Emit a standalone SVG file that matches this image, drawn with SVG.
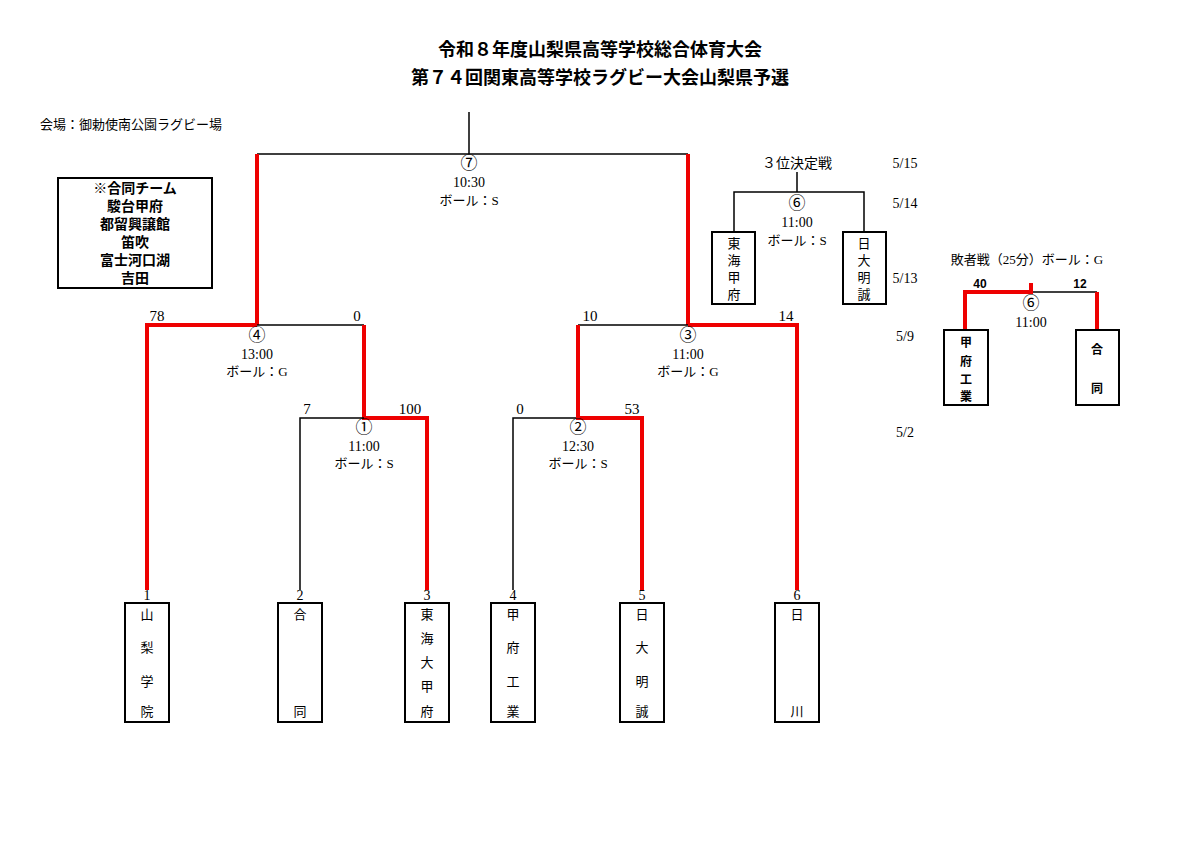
<svg xmlns="http://www.w3.org/2000/svg" width="1200" height="848" viewBox="0 0 1200 848">
<style>
text{font-family:"Liberation Serif","Noto Sans CJK JP",serif;fill:#000;text-anchor:middle}
.s{font-family:"Liberation Sans","Noto Sans CJK JP",sans-serif}
.b{font-weight:bold}
.k{stroke:#000;stroke-width:1.5;fill:none}
.r{stroke:#e00;stroke-width:4;fill:none}
.box{fill:#fff;stroke:#000;stroke-width:2}
.t{font-size:15px}
.m{font-size:14px}
.c{font-size:13px}
</style>
<rect width="1200" height="848" fill="#fff"/>
<text class="s b" x="600" y="56" font-size="18">令和８年度山梨県高等学校総合体育大会</text>
<text class="s b" x="600" y="84" font-size="18">第７４回関東高等学校ラグビー大会山梨県予選</text>
<text class="s" x="40" y="129" font-size="13" style="text-anchor:start">会場：御勅使南公園ラグビー場</text>
<g id="note">
<rect class="box" x="58" y="178" width="154" height="110"/>
<g class="s b" font-size="14">
<text x="135" y="193">※合同チーム</text><text x="135" y="211">駿台甲府</text><text x="135" y="229">都留興譲館</text>
<text x="135" y="247">笛吹</text><text x="135" y="265">富士河口湖</text><text x="135" y="283">吉田</text></g>
</g>
<g id="connectors">
<path class="k" d="M469 112V154H257M469 154H688"/>
<path class="r" d="M257 154V325M688 154V325"/>
<path class="k" d="M257 325H364"/>
<path class="r" d="M257 325H147V590M364 325V418H427V590"/>
<path class="k" d="M364 418H300V590"/>
<path class="k" d="M578 325H688M578 418H513V590"/>
<path class="r" d="M688 325H797V590M578 325V418H642V590"/>
<path class="k" d="M797 172V192M734 232V192H864V232"/>
<path class="k" d="M1031 292H1097"/>
<path class="r" d="M1031 283V292H965V330M1097 292V330"/>
</g>
<g class="t">
<text x="157" y="321">78</text><text x="357" y="321">0</text>
<text x="307" y="414">7</text><text x="410" y="414">100</text>
<text x="520" y="414">0</text><text x="632" y="414">53</text>
<text x="590" y="321">10</text><text x="786" y="321">14</text>
</g>
<g id="m7" class="m"><text x="469" y="169" font-size="17">⑦</text><text x="469" y="187">10:30</text><text x="469" y="205" class="c">ボール：S</text></g>
<g id="m4" class="m"><text x="257" y="341" font-size="17">④</text><text x="257" y="359">13:00</text><text x="257" y="376" class="c">ボール：G</text></g>
<g id="m3" class="m"><text x="688" y="341" font-size="17">③</text><text x="688" y="359">11:00</text><text x="688" y="376" class="c">ボール：G</text></g>
<g id="m1" class="m"><text x="364" y="433" font-size="17">①</text><text x="364" y="451">11:00</text><text x="364" y="468" class="c">ボール：S</text></g>
<g id="m2" class="m"><text x="578" y="433" font-size="17">②</text><text x="578" y="451">12:30</text><text x="578" y="468" class="c">ボール：S</text></g>
<g id="m6" class="m"><text x="797" y="168">３位決定戦</text><text x="797" y="209" font-size="17">⑥</text><text x="797" y="227">11:00</text><text x="797" y="245" class="c">ボール：S</text></g>
<g id="dates" class="m"><text x="905" y="168">5/15</text><text x="905" y="208">5/14</text><text x="905" y="283">5/13</text><text x="905" y="341">5/9</text><text x="905" y="437">5/2</text></g>
<g class="m">
<text x="147" y="600">1</text><text x="300" y="600">2</text><text x="427" y="600">3</text><text x="513" y="600">4</text><text x="642" y="600">5</text><text x="797" y="600">6</text></g>
<g id="t1"><rect class="box" x="125" y="603" width="44" height="119"/><g class="c"><text x="147" y="619">山</text><text x="147" y="652">梨</text><text x="147" y="686">学</text><text x="147" y="716">院</text></g></g>
<g id="t2"><rect class="box" x="278" y="603" width="44" height="119"/><g class="c"><text x="300" y="619">合</text><text x="300" y="716">同</text></g></g>
<g id="t3"><rect class="box" x="405" y="603" width="44" height="119"/><g class="c"><text x="427" y="619">東</text><text x="427" y="643">海</text><text x="427" y="667">大</text><text x="427" y="691">甲</text><text x="427" y="716">府</text></g></g>
<g id="t4"><rect class="box" x="491" y="603" width="44" height="119"/><g class="c"><text x="513" y="619">甲</text><text x="513" y="652">府</text><text x="513" y="686">工</text><text x="513" y="716">業</text></g></g>
<g id="t5"><rect class="box" x="620" y="603" width="44" height="119"/><g class="c"><text x="642" y="619">日</text><text x="642" y="652">大</text><text x="642" y="686">明</text><text x="642" y="716">誠</text></g></g>
<g id="t6"><rect class="box" x="775" y="603" width="44" height="119"/><g class="c"><text x="797" y="619">日</text><text x="797" y="716">川</text></g></g>
<g id="b1"><rect class="box" x="712" y="232" width="43" height="72"/><g class="c"><text x="734" y="248">東</text><text x="734" y="265">海</text><text x="734" y="282">甲</text><text x="734" y="299">府</text></g></g>
<g id="b2"><rect class="box" x="843" y="232" width="43" height="72"/><g class="c"><text x="864" y="248">日</text><text x="864" y="265">大</text><text x="864" y="282">明</text><text x="864" y="299">誠</text></g></g>
<g id="loser" class="m"><text x="1027" y="264" class="c">敗者戦（25分）ボール：G</text>
<text class="s b" x="980" y="288" font-size="12">40</text><text class="s b" x="1080" y="288" font-size="12">12</text>
<text x="1031" y="309" font-size="17">⑥</text><text x="1031" y="327">11:00</text></g>
<g id="l1"><rect class="box" x="944" y="330" width="44" height="75"/><g class="s b" font-size="12"><text x="966" y="347">甲</text><text x="966" y="366">府</text><text x="966" y="384">工</text><text x="966" y="401">業</text></g></g>
<g id="l2"><rect class="box" x="1076" y="330" width="43" height="75"/><g class="s b" font-size="12"><text x="1097" y="354">合</text><text x="1097" y="393">同</text></g></g>
</svg>
